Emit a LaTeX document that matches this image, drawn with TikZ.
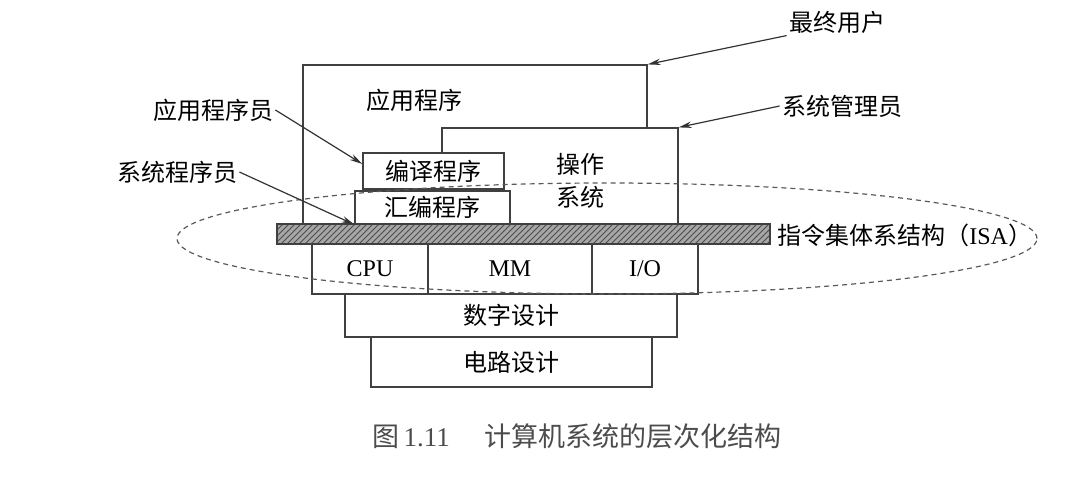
\documentclass[tikz,border=0pt]{standalone}
\usepackage{fontspec}
\setmainfont{Liberation Serif}
\newfontfamily\cjk{Noto Sans CJK SC}
\usetikzlibrary{arrows.meta,patterns}

\begin{document}
\begin{tikzpicture}[
  x=0.5pt,y=-0.5pt,
  box/.style={draw=black!75,line width=0.6pt,fill=white,inner sep=0pt,font=\cjk\fontsize{12}{15}\selectfont},
  hwbox/.style={box,font=\fontsize{12}{15}\selectfont},
  tag/.style={inner sep=1pt,font=\cjk\fontsize{12}{15}\selectfont},
  isabar/.style={draw=black!75,line width=0.6pt,preaction={fill=black!35},pattern=north east lines,pattern color=black!70,inner sep=0pt},
  pointer/.style={-{Stealth[length=6.5pt,width=3.2pt]},line width=0.6pt,black!80},
  ring/.style={dashed,dash pattern=on 2.5pt off 2pt,black!65,line width=0.6pt}
]
\useasboundingbox (0,0) rectangle (1088,477);

% software layers
\node[box,minimum width=172pt,minimum height=79.5pt] (app) at (475,144.5) {};
\node[tag] (apptext) at (414,100) {应用程序};
\node[box,minimum width=118pt,minimum height=48pt] (os) at (560,176) {};
\node[tag,align=center,font=\cjk\fontsize{12}{16.5}\selectfont] (ostext) at (580,181) {操作\\系统};
\node[box,minimum width=70.5pt,minimum height=18pt] (compiler) at (433.5,171) {编译程序};
\node[box,minimum width=77.5pt,minimum height=16.5pt] (assembler) at (432.5,207.5) {汇编程序};

% ISA
\node[isabar,minimum width=246.5pt,minimum height=10pt] (isa) at (523.5,234) {};
\node[tag,anchor=west] (isatext) at (775,235) {指令集体系结构（{\rmfamily ISA}）};

% hardware layers
\node[hwbox,minimum width=58pt,minimum height=25pt] (cpu) at (370,269) {CPU};
\node[hwbox,minimum width=82pt,minimum height=25pt] (mm) at (510,269) {MM};
\node[hwbox,minimum width=53pt,minimum height=25pt] (io) at (645,269) {I/O};
\node[box,minimum width=166pt,minimum height=21.5pt] (digital) at (511,315.5) {数字设计};
\node[box,minimum width=140.5pt,minimum height=25pt] (circuit) at (511.5,362) {电路设计};

\draw[ring] (607,238.5) ellipse [x radius=215pt,y radius=27.75pt];

% users
\node[tag] (enduser) at (837,22) {最终用户};
\node[tag] (sysadmin) at (842,106) {系统管理员};
\node[tag] (appprog) at (213,110) {应用程序员};
\node[tag] (sysprog) at (177,172) {系统程序员};
\draw[pointer] (enduser.south west) -- (app.north east);
\draw[pointer] (sysadmin.west) -- (os.north east);
\draw[pointer] (appprog.east) -- ([yshift=3.5pt]compiler.west);
\draw[pointer] (sysprog.east) -- (assembler.south west);

\node[font=\fontsize{13.5}{15}\selectfont,text=black!70] (caption) at (577,436) {{\cjk 图}\,1.11\hspace{1.3em}{\cjk 计算机系统的层次化结构}};
\end{tikzpicture}
\end{document}
